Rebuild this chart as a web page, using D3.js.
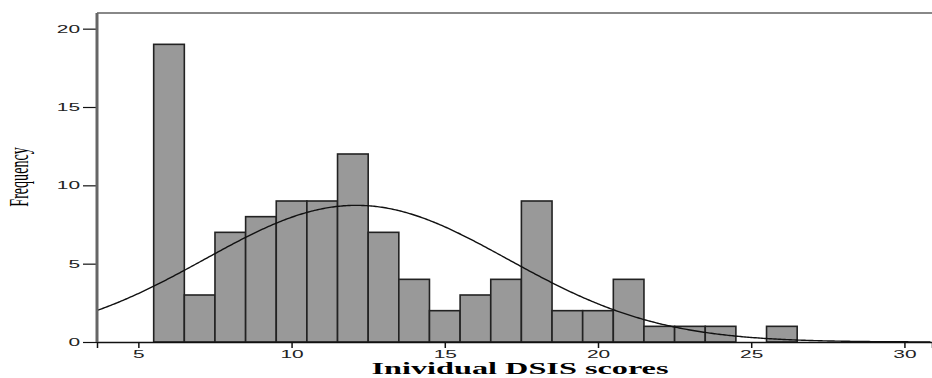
<!DOCTYPE html>
<html>
<head>
<meta charset="utf-8">
<script src="https://cdn.jsdelivr.net/npm/d3@7"></script>
<style>
  body { margin: 0; background: #fff; }
  .tick text { font-family: "Liberation Sans", Arial, sans-serif; font-size: 11px; fill: #222; }
</style>
</head>
<body>
<div id="chart"></div>
<script>
// histogram bins (score centres) and their counts
var scores = [6, 7, 8, 9, 10, 11, 12, 13, 14, 15, 16, 17, 18, 19, 20, 21, 22, 23, 24, 25, 26];
var counts = [19, 3, 7, 8, 9, 9, 12, 7, 4, 2, 3, 4, 9, 2, 2, 4, 1, 1, 1, 0, 1];
var xTicks = [5, 10, 15, 20, 25, 30];
var yTicks = [0, 5, 10, 15, 20];

var w = 932, h = 378;
var margin = {top: 13, right: 0, bottom: 36, left: 97};
var stretch = 1.9; // the original is drawn wide, so text is widened

var svg = d3.select("#chart").append("svg")
  .attr("width", w)
  .attr("height", h);

var x = d3.scaleLinear()
  .domain([3.65, 30.9])
  .range([margin.left, w - margin.right]);
var y = d3.scaleLinear()
  .domain([0, 21])
  .range([h - margin.bottom, margin.top]);

// bars
var bins = scores.map(function(s, i) { return {x: s, n: counts[i]}; }).filter(function(d) { return d.n > 0; });
svg.selectAll("rect.bar")
  .data(bins)
  .enter()
  .append("rect")
  .attr("class", "bar")
  .attr("x", function(d) { return x(d.x - 0.5); })
  .attr("width", function(d) { return x(d.x + 0.5) - x(d.x - 0.5); })
  .attr("y", function(d) { return y(d.n); })
  .attr("height", function(d) { return y(0) - y(d.n); })
  .attr("fill", "#999999")
  .attr("stroke", "#222")
  .attr("stroke-width", 1.6);

// fitted normal curve from the histogram's own mean / sd
var total = d3.sum(counts);
var mean = d3.sum(scores, function(s, i) { return s * counts[i]; }) / total;
var ss = d3.sum(scores, function(s, i) { return counts[i] * (s - mean) * (s - mean); });
var sd = Math.sqrt(ss / (total - 1));
var curveX = d3.range(x.domain()[0], x.domain()[1], 0.05);
var line = d3.line()
  .x(function(v) { return x(v); })
  .y(function(v) {
    var z = (v - mean) / sd;
    return y(total / (sd * Math.sqrt(2 * Math.PI)) * Math.exp(-0.5 * z * z));
  });
svg.append("path")
  .attr("d", line(curveX))
  .attr("fill", "none")
  .attr("stroke", "#111")
  .attr("stroke-width", 1.4);

// top frame line
svg.append("line")
  .attr("x1", margin.left).attr("x2", w)
  .attr("y1", margin.top).attr("y2", margin.top)
  .attr("stroke", "#888").attr("stroke-width", 2);

// axes
var xAxis = svg.append("g")
  .attr("transform", "translate(0," + y(0) + ")")
  .call(d3.axisBottom(x).tickValues(xTicks).tickSize(6).tickPadding(2));
xAxis.select(".domain").attr("stroke", "#111").attr("stroke-width", 1.5);
xAxis.selectAll(".tick line").attr("stroke", "#111").attr("stroke-width", 1.5);
xAxis.selectAll(".tick text").attr("transform", "scale(" + stretch + ",1)");

var yAxis = svg.append("g")
  .attr("transform", "translate(" + margin.left + ",0)")
  .call(d3.axisLeft(y).tickValues(yTicks).tickSize(14).tickPadding(3));
yAxis.select(".domain").remove();
yAxis.selectAll(".tick line").attr("stroke", "#111").attr("stroke-width", 1.2);
yAxis.selectAll(".tick text")
  .attr("x", -17 / stretch)
  .attr("transform", "scale(" + stretch + ",1)");
svg.append("line")
  .attr("x1", margin.left).attr("x2", margin.left)
  .attr("y1", margin.top).attr("y2", y(0))
  .attr("stroke", "#666").attr("stroke-width", 3);

// labels
svg.append("text")
  .attr("x", 520)
  .attr("y", 374)
  .attr("text-anchor", "middle")
  .attr("textLength", 297)
  .attr("lengthAdjust", "spacingAndGlyphs")
  .style("font-family", "'Liberation Serif', 'Times New Roman', serif")
  .style("font-weight", "bold")
  .style("font-size", "17px")
  .text("Inividual DSIS scores");

svg.append("text")
  .attr("transform", "translate(28,177) rotate(-90) scale(0.88,1.7)")
  .attr("text-anchor", "middle")
  .style("font-family", "'Liberation Serif', 'Times New Roman', serif")
  .style("font-size", "16px")
  .text("Frequency");
</script>
</body>
</html>
